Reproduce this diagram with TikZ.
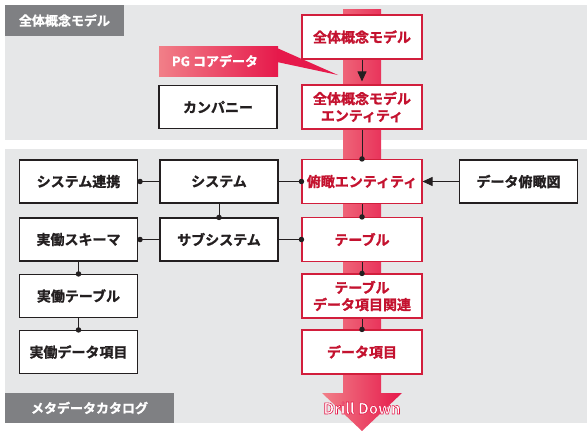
\documentclass[tikz,border=0pt]{standalone}
\usepackage{fontspec}
\setmainfont{Noto Sans CJK JP}[BoldFont={Noto Sans CJK JP Bold}, BoldFeatures={FakeBold=1.3}]
\newfontfamily\ddfont{Noto Sans CJK JP Bold}
\usetikzlibrary{arrows.meta}
\definecolor{panelgray}{HTML}{E6E7E8}
\definecolor{labelgray}{HTML}{7F8083}
\definecolor{boxred}{HTML}{D21E3C}
\definecolor{textred}{HTML}{C4122F}
\definecolor{pinklight}{HTML}{F17F88}
\definecolor{reddeep}{HTML}{E6194B}
\definecolor{linedark}{HTML}{231F20}
\newcommand{\outlinedtext}[1]{\special{pdf:code 2 Tr 0.55 w 0.90 0.10 0.29 RG}#1\special{pdf:code 0 Tr}}
\tikzset{
  blackbox/.style={draw=linedark, line width=1.1pt, fill=white, minimum width=118pt, minimum height=43pt, inner sep=0pt, align=center, font=\bfseries\fontsize{14}{16}\selectfont, text=linedark},
  redbox/.style={draw=boxred, line width=1.1pt, fill=white, minimum width=120pt, minimum height=44pt, inner sep=0pt, align=center, font=\bfseries\fontsize{14}{16}\selectfont, text=textred},
  tag/.style={fill=labelgray, inner sep=0pt, text=white, font=\bfseries\fontsize{13}{15}\selectfont},
  conn/.style={draw=linedark, line width=0.9pt},
  dot/.style={circle, fill=linedark, inner sep=0pt, minimum size=5.5pt},
}
\begin{document}
\begin{tikzpicture}[x=1pt, y=-1pt]
\useasboundingbox (0,0) rectangle (587,431);
\fill[white] (0,0) rectangle (587,431);
% panels
\fill[panelgray] (5,5) rectangle (587,140);
\fill[panelgray] (5,149) rectangle (587,423);
% panel tags
\node[tag, minimum width=119pt, minimum height=31pt] (tagtop) at (64.5,20.5) {全体概念モデル};
\node[tag, minimum width=169pt, minimum height=30pt] (tagbot) at (89.5,408) {メタデータカタログ};
% drill down arrow
\shade[left color=pinklight, right color=reddeep]
  (343,9) -- (381,9) -- (381,393) -- (402,393) -- (362,431) -- (322,393) -- (343,393) -- cycle;
% PG core data callout
\shade[left color=pinklight, right color=reddeep] (159,46) rectangle (278,76);
\fill[reddeep] (277,48) -- (338,75) -- (277,62) -- cycle;
\node[text=white, font=\bfseries\fontsize{13}{15}\selectfont] (pg) at (215,61) {PG コアデータ};
% top boxes
\node[blackbox] (company) at (218,107) {カンパニー};
\node[redbox] (gm) at (362,37) {全体概念モデル};
\node[redbox, font=\bfseries\fontsize{14}{17}\selectfont] (gme) at (362,107) {全体概念モデル\\エンティティ};
% center column
\node[redbox] (fe) at (362,181.5) {俯瞰エンティティ};
\node[redbox] (tbl) at (362,239.5) {テーブル};
\node[redbox, font=\bfseries\fontsize{14}{17}\selectfont] (tdr) at (362,296) {テーブル\\データ項目関連};
\node[redbox] (di) at (362,352) {データ項目};
% left columns
\node[blackbox] (sysrel) at (78.5,181.5) {システム連携};
\node[blackbox] (sys) at (219,181.5) {システム};
\node[blackbox] (schema) at (78.5,239.5) {実働スキーマ};
\node[blackbox] (subsys) at (219,239.5) {サブシステム};
\node[blackbox] (atbl) at (78.5,296) {実働テーブル};
\node[blackbox] (adi) at (78.5,352) {実働データ項目};
\node[blackbox] (overview) at (518.5,181.5) {データ俯瞰図};
% connectors
\draw[conn, -{Triangle[width=9pt,length=10pt]}, shorten >=3pt] (gm.south) -- (gme.north);
\draw[conn] (gme.south) -- (fe.north) node[dot] {};
\draw[conn] (fe.south) -- (tbl.north) node[dot] {};
\draw[conn] (tbl.south) -- (tdr.north) node[dot] {};
\draw[conn] (tdr.south) -- (di.north) node[dot] {};
\draw[conn] (sys.west) -- ([xshift=2pt]sysrel.east) node[dot] {};
\draw[conn] (subsys.west) -- ([xshift=2pt]schema.east) node[dot] {};
\draw[conn] (sys.south) -- (subsys.north) node[dot] {};
\draw[conn] (schema.south) -- (atbl.north) node[dot] {};
\draw[conn] (atbl.south) -- (adi.north) node[dot] {};
\draw[conn] (sys.east) -- (fe.west) node[dot] {};
\draw[conn] (subsys.east) -- (tbl.west) node[dot] {};
\draw[conn, -{Triangle[width=9pt,length=10pt]}] (overview.west) -- (fe.east);
% Drill Down label (white text with red outline)
\node[text=white, font=\ddfont\fontsize{15}{17}\selectfont] (dd) at (362,408) {\outlinedtext{Drill Down}};
\end{tikzpicture}
\end{document}
